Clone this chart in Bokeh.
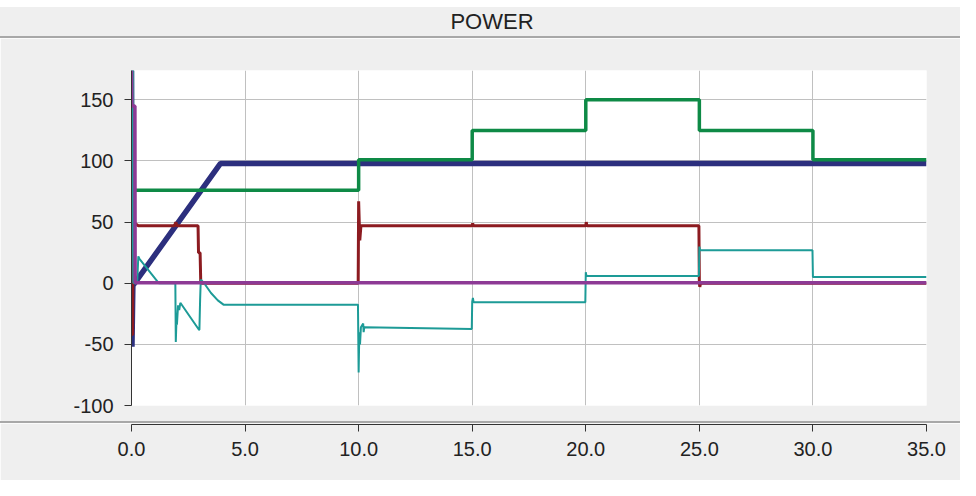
from bokeh.plotting import figure
from bokeh.models import Div, FixedTicker, Range1d, PrintfTickFormatter
from bokeh.layouts import column
from bokeh.embed import file_html
from bokeh.resources import INLINE

title_text = "POWER"
x_ticks = [0, 5, 10, 15, 20, 25, 30, 35]
y_ticks = [-100, -50, 0, 50, 100, 150]

# navy series
t_navy = [0.0, 0.02, 0.06, 3.92, 35.0]
p_navy = [174, -52, -2, 98, 98]

# green series
t_green = [0.1, 10.0, 10.0, 15.0, 15.0, 20.0, 20.0, 25.0, 25.0, 30.0, 30.0, 35.0]
p_green = [76, 76, 101, 101, 125, 125, 150, 150, 125, 125, 101, 101]

# dark red series
t_red = [0.0, 0.03, 0.05, 0.06, 0.3, 1.9, 1.95, 2.0, 2.93, 2.95, 3.02, 3.05,
         9.98, 10.0, 10.05, 10.1, 15.0, 15.02, 15.05, 20.0, 20.02, 20.05,
         24.98, 25.0, 25.02, 25.05, 35.0]
p_red = [0, -42, -42, 50, 47, 47, 50, 47, 47, 25, 25, 0,
         0, 67, 35, 47, 47, 49, 47, 47, 50, 47,
         47, 0, -3, 0, 0]

# teal series
t_teal = [0.0, 0.04, 0.07, 0.1, 0.25, 0.3, 0.35, 1.2, 1.93, 1.95, 1.98, 2.0,
          2.05, 2.1, 2.15, 2.97, 2.99, 3.02, 3.05, 3.2, 3.5, 3.8, 4.05,
          9.97, 10.0, 10.03, 10.06, 10.1, 10.2, 10.22, 10.25, 14.98,
          15.0, 15.03, 15.06, 19.98, 20.0, 20.03, 24.98, 25.0, 25.03,
          29.98, 30.0, 35.0]
p_teal = [0, 174, 174, 0, 0, 22, 20, 0, 0, -48, -30, -34,
          -18, -22, -16, -38, -38, -14, 3, 0, -8, -14, -17.5,
          -17.5, -73, -40, -50, -36, -33, -40, -36, -37.5,
          -15, -12, -15.5, -15.5, 9, 6, 6, 30, 27,
          27, 5, 5]

# purple series
t_purple = [0.0, 0.02, 0.15, 0.16, 35.0]
p_purple = [174, 145, 145, 0.5, 0.5]

FONT = "Liberation Sans"
BG = "#efefef"
W = 960

top_gap = Div(text="", width=W, height=7, styles={"background-color": "white"}, margin=0)
header = Div(
    text=(f'<div style="margin-left:24px;width:936px;text-align:center;line-height:29px;'
          f'font-family:{FONT},Arial,sans-serif;font-size:22px;color:#222;">'
          f'{title_text}</div>'),
    width=W, height=29, styles={"background-color": BG}, margin=0)
sep1 = Div(text="", width=W, height=2, styles={"background-color": "#a8a8a8"}, margin=0)

p = figure(width=W, height=383, x_range=Range1d(0, 35), y_range=Range1d(-100, 174),
           x_axis_location=None, toolbar_location=None, output_backend="svg",
           min_border_left=131, min_border_right=34, min_border_top=32,
           min_border_bottom=16, background_fill_color="white",
           border_fill_color=BG, outline_line_color=None)
p.xgrid.ticker = FixedTicker(ticks=x_ticks)
p.ygrid.ticker = FixedTicker(ticks=y_ticks)
for g in (p.xgrid[0], p.ygrid[0]):
    g.grid_line_color = "#c0c0c0"
    g.grid_line_width = 1
ya = p.yaxis[0]
ya.ticker = FixedTicker(ticks=y_ticks)
ya.formatter = PrintfTickFormatter(format="%d")
ya.major_label_text_font = FONT
ya.major_label_text_font_size = "20px"
ya.major_label_text_color = "#222"
ya.major_tick_out = 7
ya.major_tick_in = 0
ya.minor_tick_out = 0
ya.minor_tick_in = 0
ya.major_label_standoff = 11
ya.axis_line_color = "#333"
ya.major_tick_line_color = "#333"

p.line(t_navy, p_navy, line_color="#2c2f7e", line_width=5.5)
p.line(t_green, p_green, line_color="#0e8a46", line_width=3.5)
p.line(t_red, p_red, line_color="#8c1b20", line_width=3)
p.line(t_teal, p_teal, line_color="#1d9b97", line_width=2)
p.line(t_purple, p_purple, line_color="#8d3a95", line_width=3.5)

sep2 = Div(text="", width=W, height=2, styles={"background-color": "#a8a8a8"}, margin=0)

ax = figure(width=W, height=57, x_range=p.x_range, y_range=Range1d(0, 1),
            y_axis_location=None, toolbar_location=None, output_backend="svg",
            min_border_left=131, min_border_right=34, min_border_top=0,
            min_border_bottom=56, background_fill_color=BG,
            border_fill_color=BG, outline_line_color=None)
ax.xgrid.visible = False
ax.ygrid.visible = False
xa = ax.xaxis[0]
xa.ticker = FixedTicker(ticks=x_ticks)
xa.formatter = PrintfTickFormatter(format="%.1f")
xa.major_label_text_font = FONT
xa.major_label_text_font_size = "20px"
xa.major_label_text_color = "#222"
xa.major_tick_out = 7
xa.major_tick_in = 0
xa.minor_tick_out = 0
xa.minor_tick_in = 0
xa.major_label_standoff = 10
xa.axis_line_color = "#333"
xa.major_tick_line_color = "#333"

layout = column(top_gap, header, sep1, p, sep2, ax, spacing=0)
open("out.html", "w").write(file_html(layout, INLINE))
